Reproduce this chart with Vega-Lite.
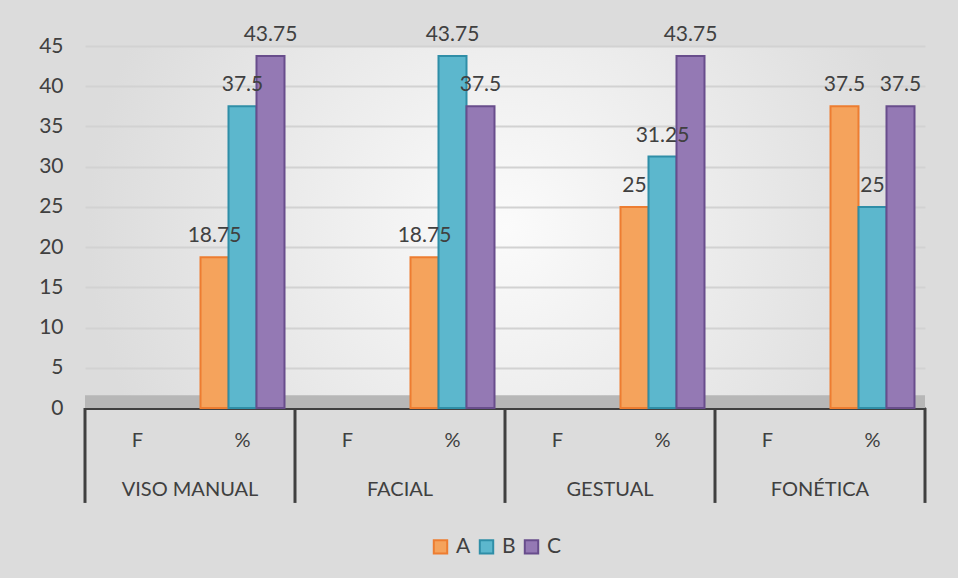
{
  "$schema": "https://vega.github.io/schema/vega-lite/v6.json",
  "width": 840,
  "height": 362,
  "autosize": {"type": "none"},
  "padding": {"left": 85, "top": 46, "right": 33, "bottom": 170},
  "background": "#dcdcdc",
  "config": {
    "font": "Lato",
    "view": {
      "stroke": null,
      "fill": {
        "gradient": "radial",
        "x1": 0.5, "y1": 0.5, "r1": 0,
        "x2": 0.5, "y2": 0.5, "r2": 0.72,
        "stops": [
          {"offset": 0, "color": "#fbfbfb"},
          {"offset": 0.69, "color": "#dcdcdc"},
          {"offset": 1, "color": "#dcdcdc"}
        ]
      }
    },
    "text": {"color": "#404040"}
  },
  "datasets": {
    "bars": [
      {"cat": "VISO MANUAL|%", "series": "A", "value": 18.75},
      {"cat": "VISO MANUAL|%", "series": "B", "value": 37.5},
      {"cat": "VISO MANUAL|%", "series": "C", "value": 43.75},
      {"cat": "FACIAL|%", "series": "A", "value": 18.75},
      {"cat": "FACIAL|%", "series": "B", "value": 43.75},
      {"cat": "FACIAL|%", "series": "C", "value": 37.5},
      {"cat": "GESTUAL|%", "series": "A", "value": 25},
      {"cat": "GESTUAL|%", "series": "B", "value": 31.25},
      {"cat": "GESTUAL|%", "series": "C", "value": 43.75},
      {"cat": "FONÉTICA|%", "series": "A", "value": 37.5},
      {"cat": "FONÉTICA|%", "series": "B", "value": 25},
      {"cat": "FONÉTICA|%", "series": "C", "value": 37.5}
    ],
    "cats": [
      {"cat": "VISO MANUAL|F"}, {"cat": "VISO MANUAL|%"},
      {"cat": "FACIAL|F"}, {"cat": "FACIAL|%"},
      {"cat": "GESTUAL|F"}, {"cat": "GESTUAL|%"},
      {"cat": "FONÉTICA|F"}, {"cat": "FONÉTICA|%"}
    ],
    "groups": [
      {"group": "VISO MANUAL", "cat": "VISO MANUAL|F"},
      {"group": "FACIAL", "cat": "FACIAL|F"},
      {"group": "GESTUAL", "cat": "GESTUAL|F"},
      {"group": "FONÉTICA", "cat": "FONÉTICA|F"}
    ],
    "edge": [{"cat": "FONÉTICA|%"}]
  },
  "layer": [
    {
      "data": {"name": "cats"},
      "mark": {"type": "bar", "color": "#b7b7b7"},
      "encoding": {
        "x": {
          "field": "cat", "type": "nominal", "sort": null,
          "scale": {
            "domain": ["VISO MANUAL|F", "VISO MANUAL|%", "FACIAL|F", "FACIAL|%", "GESTUAL|F", "GESTUAL|%", "FONÉTICA|F", "FONÉTICA|%"],
            "paddingInner": 0, "paddingOuter": 0
          },
          "axis": {
            "title": null, "labelAngle": 0, "ticks": false,
            "domain": true, "domainColor": "#404040", "domainWidth": 3,
            "labelExpr": "split(datum.value, '|')[1]",
            "labelPadding": 22, "labelFontSize": 20, "labelColor": "#404040",
            "labelFont": "Lato"
          }
        },
        "y": {
          "datum": 0, "type": "quantitative",
          "scale": {"domain": [0, 45], "nice": false},
          "axis": {
            "title": null, "domain": false, "ticks": false,
            "values": [0, 5, 10, 15, 20, 25, 30, 35, 40, 45],
            "grid": true, "gridColor": "#d2d2d2", "gridWidth": 2,
            "labelPadding": 22, "labelFontSize": 21, "labelColor": "#404040",
            "labelFont": "Lato"
          }
        },
        "y2": {"datum": 1.6}
      }
    },
    {
      "data": {"name": "bars"},
      "mark": {"type": "bar", "strokeWidth": 2},
      "encoding": {
        "x": {"field": "cat", "type": "nominal", "sort": null},
        "xOffset": {
          "field": "series", "type": "nominal",
          "scale": {"paddingInner": 0, "paddingOuter": 0.375}
        },
        "y": {"field": "value", "type": "quantitative"},
        "fill": {
          "field": "series", "type": "nominal",
          "scale": {"domain": ["A", "B", "C"], "range": ["#f5a35c", "#5cb7cd", "#9479b4"]},
          "legend": {
            "title": null, "orient": "none", "direction": "horizontal",
            "legendX": 345, "legendY": 490,
            "symbolType": "square", "symbolSize": 180, "symbolStrokeWidth": 2,
            "labelFontSize": 21, "labelColor": "#404040", "labelFont": "Lato",
            "labelOffset": 5, "columnPadding": 4,
            "encode": {
              "symbols": {"update": {"stroke": {"scale": "stroke", "field": "value"}}}
            }
          }
        },
        "stroke": {
          "field": "series", "type": "nominal",
          "scale": {"domain": ["A", "B", "C"], "range": ["#ed7d31", "#2f8ea7", "#684d8c"]},
          "legend": null
        }
      }
    },
    {
      "data": {"name": "bars"},
      "mark": {"type": "text", "baseline": "bottom", "dy": -11, "fontSize": 21, "font": "Lato"},
      "encoding": {
        "x": {"field": "cat", "type": "nominal", "sort": null},
        "xOffset": {"field": "series", "type": "nominal"},
        "y": {"field": "value", "type": "quantitative"},
        "text": {"field": "value", "type": "quantitative", "format": "~g"}
      }
    },
    {
      "data": {"name": "groups"},
      "mark": {"type": "text", "baseline": "middle", "fontSize": 20, "font": "Lato"},
      "encoding": {
        "x": {"field": "cat", "type": "nominal", "sort": null, "bandPosition": 1},
        "y": {"datum": -10.2, "type": "quantitative"},
        "text": {"field": "group", "type": "nominal"}
      }
    },
    {
      "data": {"name": "groups"},
      "mark": {"type": "rule", "color": "#404040", "strokeWidth": 3},
      "encoding": {
        "x": {"field": "cat", "type": "nominal", "sort": null, "bandPosition": 0},
        "y": {"datum": 0, "type": "quantitative"},
        "y2": {"datum": -11.8}
      }
    },
    {
      "data": {"name": "edge"},
      "mark": {"type": "rule", "color": "#404040", "strokeWidth": 3},
      "encoding": {
        "x": {"field": "cat", "type": "nominal", "sort": null, "bandPosition": 1},
        "y": {"datum": 0, "type": "quantitative"},
        "y2": {"datum": -11.8}
      }
    }
  ],
  "resolve": {"scale": {"fill": "independent", "stroke": "independent"}}
}
